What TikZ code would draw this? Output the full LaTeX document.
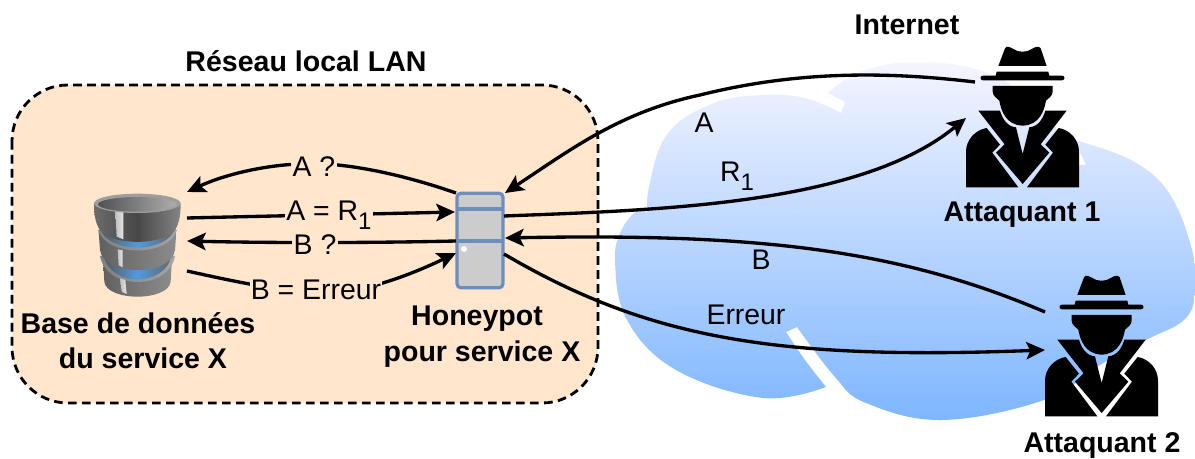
\documentclass[tikz,border=0pt]{standalone}
\usepackage{fontspec}
\setmainfont{Liberation Sans}
\usetikzlibrary{arrows.meta}
\definecolor{lanfill}{HTML}{FFE6CC}
\definecolor{srvline}{HTML}{6C8EBF}
\definecolor{srvfill}{HTML}{CCCCCC}
\definecolor{dbblue}{HTML}{4F9BE0}
\newcommand{\subone}{\raisebox{-0.32em}{\fontsize{18}{20}\selectfont 1}}
\tikzset{
  conn/.style={line width=2.5pt,black,-{Stealth[length=14pt,width=13pt,inset=3pt]}},
  lbl/.style={font=\fontsize{21.3}{25}\selectfont,inner sep=0pt,align=center},
  lblbg/.style={lbl,fill=lanfill,inner xsep=1pt,inner ysep=0pt},
  title/.style={font=\fontsize{21.4}{26.5}\selectfont\bfseries,inner sep=0pt,align=center},
  agent/.pic={
    \fill (145,108) -- (165,55) .. controls (170,47) and (178,50) .. (190,57) .. controls (205,68) and (230,68) .. (245,57) .. controls (257,50) and (267,47) .. (272,55) -- (290,108) -- cycle;
    \fill (140,125) -- (295,125) -- (298,137) -- (336,137) .. controls (346,137) and (346,151) .. (336,151) -- (99,151) .. controls (89,151) and (89,137) .. (99,137) -- (137,137) -- cycle;
    \fill (128,168) -- (308,168) -- (308,185) .. controls (308,198) and (295,205) .. (288,212) .. controls (283,240) and (270,285) .. (218,287) .. controls (166,285) and (153,240) .. (148,212) .. controls (141,205) and (128,198) .. (128,185) -- cycle;
    \fill (85,242) -- (150,242) .. controls (158,268) and (172,290) .. (198,292) -- (218,372) -- (238,292) .. controls (264,290) and (278,268) .. (286,242) -- (350,242) -- (272,343) -- (298,368) -- (218,462) -- (138,368) -- (164,343) -- cycle;
    \fill (110,294) -- (150,344) -- (127,368) -- (205,472) -- (48,472) -- (48,365) .. controls (48,330) and (75,300) .. (110,294) -- cycle;
    \fill (326,294) -- (286,344) -- (309,368) -- (231,472) -- (387,472) -- (387,365) .. controls (387,330) and (361,300) .. (326,294) -- cycle;
  }
}
\begin{document}
\begin{tikzpicture}[x=0.75pt,y=-0.75pt]
\useasboundingbox (0,0) rectangle (1195,459);

% cloud
\shade[top color=white!96!blue,bottom color={rgb,255:red,126;green,182;blue,255}]
  (841,113) -- (845,102) -- (828,93)
  -- plot[smooth,tension=.65] coordinates {(828,93) (860,72) (915,62) (985,72) (1040,108) (1079,165)}
  -- (1086,165) -- (1074,140)
  -- plot[smooth,tension=.65] coordinates {(1074,140) (1131,160) (1169,193) (1192,250) (1195,293) (1184,320) (1146,340) (1100,365) (1044,400) (942,420) (866,403) (835,377) (797,327)}
  -- (786,332)
  -- plot[smooth,tension=.65] coordinates {(786,332) (805,360) (826,387)}
  -- plot[smooth,tension=.65] coordinates {(826,387) (763,398) (676,370) (627,320) (615,260) (623,227) (640,208)}
  -- (659,222) -- (647,227)
  -- plot[smooth,tension=.65] coordinates {(647,227) (649,187) (668,133) (714,103) (763,95) (805,98) (841,113)}
  -- cycle;

% LAN
\draw[fill=lanfill,line width=2.1pt,dash pattern=on 6.5pt off 4pt,rounded corners=42pt] (12,85) rectangle (598,403);

% database
\begin{scope}[shift={(70,170)},x=0.25pt,y=-0.25pt]
  \shade[left color=black!62,right color=black!45] (100,280) -- (103,335) .. controls (110,395) and (295,395) .. (302,335) -- (305,280) -- cycle;
  \shade[left color=black!50,right color=black!35] (90,258) .. controls (110,362) and (295,362) .. (315,258) -- cycle;
  \shade[left color=black!65,right color=black!60,middle color=dbblue] (102,262) .. controls (125,350) and (280,350) .. (303,262) -- cycle;
  \shade[left color=black!62,right color=black!45] (86,185) -- (90,240) .. controls (100,320) and (305,320) .. (315,240) -- (319,185) -- cycle;
  \shade[left color=black!50,right color=black!35] (84,180) .. controls (110,262) and (295,262) .. (321,180) -- cycle;
  \shade[left color=black!65,right color=black!60,middle color=dbblue] (92,180) .. controls (120,250) and (285,250) .. (313,180) -- cycle;
  \shade[left color=black!58,right color=black!48,middle color=black!72] (72,100) .. controls (72,140) and (78,160) .. (88,178) .. controls (120,228) and (285,228) .. (317,178) .. controls (326,160) and (332,140) .. (332,100) -- cycle;
  \shade[left color=black!25,right color=black!10] (136,122) -- (160,126) -- (160,208) -- (140,200) -- cycle;
  \shade[left color=black!25,right color=black!10] (143,238) -- (158,241) -- (158,292) -- (146,286) -- cycle;
  \shade[left color=black!25,right color=black!10] (150,325) -- (166,330) -- (170,372) -- (155,365) -- cycle;
  \fill[black!38] (202,100) ellipse [x radius=130,y radius=29];
  \shade[left color=black!68,right color=black!32] (202,103) ellipse [x radius=118,y radius=22];
\end{scope}
\node[minimum width=75pt,minimum height=90pt,inner sep=0pt] (db) at (138,235) {};
\coordinate (dbA) at (187,192);
\coordinate (dbB) at (187,218);
\coordinate (dbC) at (187,241);
\coordinate (dbD) at (187,271);

% server
\node[draw=srvline,fill=srvfill,line width=2.4pt,rounded corners=3pt,minimum width=34.5pt,minimum height=71pt,inner sep=0pt] (srv) at (480,240.5) {};
\draw[srvline,line width=2.4pt] (457,209) -- (503,209);
\draw[srvline,line width=2.4pt] (457,241) -- (503,241);
\fill[white] (464,249) circle [radius=3];
\coordinate (sLa) at (456,193);
\coordinate (sLb) at (455,212);
\coordinate (sLc) at (456,241);
\coordinate (sLd) at (456,253);
\coordinate (sRa) at (505,193);
\coordinate (sRb) at (504,216);
\coordinate (sRc) at (505,238);
\coordinate (sRd) at (504,254);

% attackers
\pic[scale=0.3333] at (950,30) {agent};
\pic[scale=0.3333] at (1029,259) {agent};
\node[minimum size=85pt,inner sep=0pt] (att1) at (1021,117) {};
\node[minimum size=85pt,inner sep=0pt] (att2) at (1100,346) {};
\coordinate (a1a) at (975,82);
\coordinate (a1b) at (966,118);
\coordinate (a2a) at (1045,312);
\coordinate (a2b) at (1045,350);

% connectors
\draw[conn] (sLa) .. controls (390,170) and (340,164) .. (320,164) .. controls (280,162) and (230,172) .. (dbA);
\draw[conn] (dbB) .. controls (270,216) and (370,214) .. (sLb);
\draw[conn] (sLc) .. controls (370,243) and (270,243) .. (dbC);
\draw[conn] (dbD) .. controls (250,285) and (300,295) .. (340,292) .. controls (380,288) and (425,268) .. (sLd);
\draw[conn] (a1a) .. controls (890,72) and (800,70) .. (700,95) .. controls (620,112) and (570,150) .. (sRa);
\draw[conn] (sRb) .. controls (660,210) and (860,205) .. (a1b);
\draw[conn] (a2a) .. controls (900,250) and (760,233) .. (sRc);
\draw[conn] (sRd) .. controls (650,340) and (780,360) .. (a2b);

% labels
\node[lblbg] (lAq) at (314,167) {A ?};
\node[lblbg] (lAR) at (329,215) {A = R\subone};
\node[lblbg] (lBq) at (315,245) {B ?};
\node[lblbg] (lBE) at (316,290) {B = Erreur};
\node[lbl] (lA) at (704,123) {A};
\node[lbl] (lR) at (737,176) {R\subone};
\node[lbl] (lB) at (761,260) {B};
\node[lbl] (lE) at (746,315) {Erreur};
\node[title] (tI) at (907,25) {Internet};
\node[title] (tL) at (306,61) {Réseau local LAN};
\node[title] (tD) at (143,340.5) {Base de données\hspace*{7.5pt}\\du service X};
\node[title] (tH) at (482,336.5) {Honeypot\hspace*{7.5pt}\\pour service X};
\node[title] (t1) at (1022,215) {Attaquant 1};
\node[title] (t2) at (1102,445) {Attaquant 2};
\end{tikzpicture}
\end{document}
